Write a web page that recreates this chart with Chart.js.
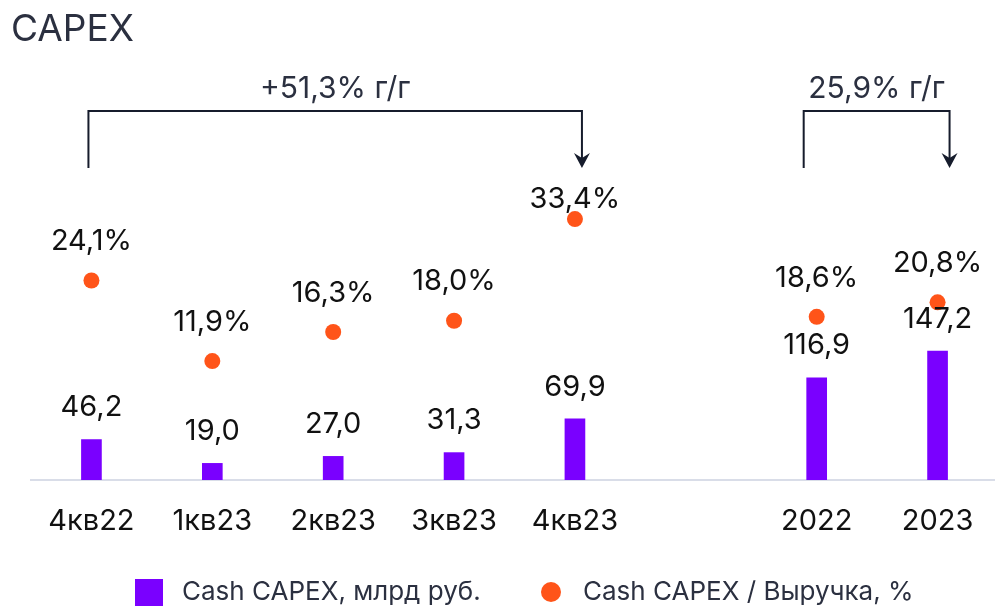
<!DOCTYPE html>
<html>
<head>
<meta charset="utf-8">
<script src="https://cdn.jsdelivr.net/npm/chart.js"></script>
<style>
  html, body { margin: 0; padding: 0; background: #fff; overflow: hidden; }
  #wrap { position: relative; width: 995px; height: 606px; overflow: hidden; }
</style>
</head>
<body>
<div id="wrap"><canvas id="chart" width="1006" height="606"></canvas></div>
<script>
// data
const categories = ['4кв22', '1кв23', '2кв23', '3кв23', '4кв23', '', '2022', '2023'];
const capex = [46.2, 19.0, 27.0, 31.3, 69.9, null, 116.9, 147.2];
const capexShare = [24.1, 11.9, 16.3, 18.0, 33.4, null, 18.6, 20.8];
const growthNotes = [
  { from: 0, to: 4, text: '+51,3% г/г' },
  { from: 6, to: 7, text: '25,9% г/г' }
];
const legendLabels = ['Cash CAPEX, млрд руб.', 'Cash CAPEX / Выручка, %'];

const purple = '#7A00FF';
const orange = '#FF5419';
const ink = '#2B3040';
const FONT = 'Inter, "Noto Sans", sans-serif';

const fmt = v => v.toFixed(1).replace('.', ',');

// value labels over bars and points
const valueLabels = {
  id: 'valueLabels',
  afterDatasetsDraw(chart) {
    const ctx = chart.ctx;
    ctx.save();
    ctx.fillStyle = '#111';
    ctx.font = '29px ' + FONT;
    ctx.textAlign = 'center';
    ctx.textBaseline = 'middle';
    chart.getDatasetMeta(0).data.forEach((bar, i) => {
      if (capex[i] == null) return;
      ctx.fillText(fmt(capex[i]), bar.x, bar.y - 32);
    });
    chart.getDatasetMeta(1).data.forEach((pt, i) => {
      if (capexShare[i] == null) return;
      // the 4кв23 label sits lower, just under the arrow
      const lift = i === 4 ? 20 : 39;
      ctx.fillText(fmt(capexShare[i]) + '%', pt.x, pt.y - lift);
    });
    ctx.restore();
  }
};

// brackets with arrows, growth text, title and legend
const brackets = {
  id: 'brackets',
  afterDraw(chart) {
    const ctx = chart.ctx;
    const x = chart.scales.x;
    const yTop = 111, yBottom = 168;
    ctx.save();
    ctx.strokeStyle = '#161c2c';
    ctx.lineWidth = 2;
    growthNotes.forEach((n, k) => {
      const x1 = x.getPixelForValue(n.from) + (k === 0 ? -3 : -13);
      const x2 = x.getPixelForValue(n.to) + (k === 0 ? 7 : 12);
      ctx.beginPath();
      ctx.moveTo(x1, yBottom);
      ctx.lineTo(x1, yTop);
      ctx.lineTo(x2, yTop);
      ctx.lineTo(x2, yBottom - 8);
      ctx.stroke();
      ctx.fillStyle = '#161c2c';
      ctx.beginPath();
      ctx.moveTo(x2 - 8, yBottom - 15);
      ctx.lineTo(x2, yBottom - 10);
      ctx.lineTo(x2 + 8, yBottom - 15);
      ctx.lineTo(x2, yBottom);
      ctx.closePath();
      ctx.fill();
      ctx.font = '30px ' + FONT;
      ctx.fillStyle = ink;
      ctx.textAlign = 'center';
      ctx.textBaseline = 'middle';
      ctx.fillText(n.text, (x1 + x2) / 2, 89);
    });
    // title
    ctx.font = '37px ' + FONT;
    ctx.fillStyle = ink;
    ctx.textAlign = 'left';
    ctx.textBaseline = 'middle';
    ctx.fillText('CAPEX', 11, 30);
    // legend
    ctx.fillStyle = purple;
    ctx.fillRect(135, 579, 28, 27);
    ctx.fillStyle = orange;
    ctx.beginPath();
    ctx.arc(551, 592, 10, 0, Math.PI * 2);
    ctx.fill();
    ctx.font = '26px ' + FONT;
    ctx.fillStyle = ink;
    ctx.fillText(legendLabels[0], 182, 592);
    ctx.fillText(legendLabels[1], 583, 592);
    ctx.restore();
  }
};

new Chart(document.getElementById('chart'), {
  data: {
    labels: categories,
    datasets: [
      {
        type: 'bar',
        label: legendLabels[0],
        data: capex,
        backgroundColor: purple,
        barThickness: 20,
        yAxisID: 'y',
        order: 2
      },
      {
        type: 'line',
        label: legendLabels[1],
        data: capexShare,
        showLine: false,
        pointRadius: 8,
        pointHoverRadius: 8,
        pointBackgroundColor: orange,
        pointBorderWidth: 0,
        yAxisID: 'y2',
        order: 1
      }
    ]
  },
  options: {
    responsive: false,
    animation: false,
    layout: { padding: { top: 130, left: 31, right: 0, bottom: 66 } },
    plugins: { legend: { display: false }, tooltip: { enabled: false } },
    scales: {
      x: {
        offset: true,
        grid: { display: false, drawTicks: false, tickLength: 0 },
        border: { display: true, color: '#d9dde8', width: 2 },
        ticks: { color: '#111', font: { size: 29, family: FONT }, padding: 24, maxRotation: 0 },
        afterFit(scale) { scale.height = 60; }
      },
      y: { display: false, min: 0, max: 400 },
      y2: { display: false, min: -6.12, max: 46.9 }
    }
  },
  plugins: [valueLabels, brackets]
});
</script>
</body>
</html>
